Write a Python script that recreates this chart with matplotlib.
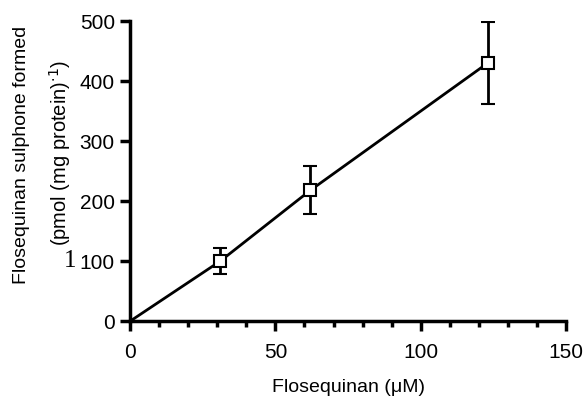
import matplotlib
matplotlib.use('Agg')
import matplotlib.pyplot as plt
from matplotlib.ticker import MultipleLocator

plt.rcParams['font.family'] = ['Liberation Sans', 'DejaVu Sans']

conc = [0, 31, 62, 123]
sulphone = [0, 100, 218, 430]
err = [0, 22, 40, 68]

fig = plt.figure(figsize=(5.86, 3.98), dpi=100)
ax = fig.add_axes([0.222, 0.193, 0.744, 0.754])

ax.plot(conc, sulphone, color='black', lw=2, zorder=2)
ax.errorbar(conc[1:], sulphone[1:], yerr=err[1:], fmt='s', ms=8, mfc='white',
            mec='black', mew=1.5, ecolor='black', elinewidth=2, capsize=5,
            capthick=2, zorder=3)

ax.set_xlim(0, 150)
ax.set_ylim(0, 500)
ax.xaxis.set_major_locator(MultipleLocator(50))
ax.xaxis.set_minor_locator(MultipleLocator(10))
ax.yaxis.set_major_locator(MultipleLocator(100))

for s in ['top', 'right']:
    ax.spines[s].set_visible(False)
for s in ['left', 'bottom']:
    ax.spines[s].set_linewidth(2.5)

ax.tick_params(which='major', length=7, width=2.5, labelsize=15, pad=4)
ax.tick_params(which='minor', length=4, width=2.5)
ax.tick_params(axis='x', pad=9)

ax.set_xlabel('Flosequinan (\u03bcM)', fontsize=14, labelpad=12)

fig.text(0.036, 0.611, 'Flosequinan sulphone formed', rotation=90,
         fontsize=14, ha='center', va='center')
fig.text(0.102, 0.616, '(pmol (mg protein)$^{\\cdot1}$)', rotation=90,
         fontsize=14.5, ha='center', va='center')

fig.text(0.131, 0.193 + 0.754 * 0.2, '1', family='Liberation Serif',
         fontsize=18, va='center', ha='right')

fig.savefig('out.png', dpi=100)
